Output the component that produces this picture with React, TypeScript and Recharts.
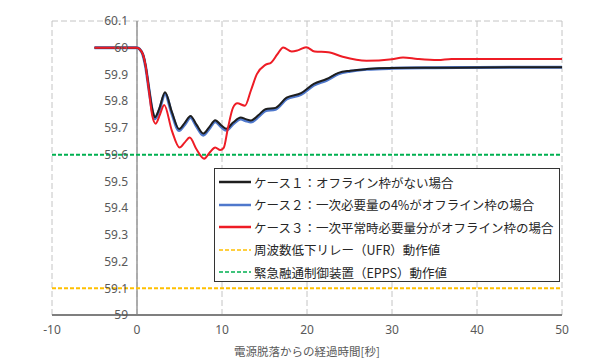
import React from 'react';
import { LineChart, Line, XAxis, YAxis, CartesianGrid, ReferenceLine, ReferenceDot, Legend } from 'recharts';

const xTicks = [-10, 0, 10, 20, 30, 40, 50];
const yTicks = [59, 59.1, 59.2, 59.3, 59.4, 59.5, 59.6, 59.7, 59.8, 59.9, 60, 60.1];
const yTickLabels = ['59', '59.1', '59.2', '59.3', '59.4', '59.5', '59.6', '59.7', '59.8', '59.9', '60', '60.1'];

const case1Time = [-5, 0, 0.3, 0.7, 1.0, 1.4, 1.8, 2.1, 2.6, 3.3, 4.1, 4.95, 5.6, 6.3, 7.0, 7.8, 8.5, 9.2, 9.9, 10.5, 11.3, 12.2, 12.8, 13.4, 14.3, 15.1, 16.3, 17.6, 19.3, 20.8, 22.3, 23.7, 25.1, 27, 30, 35, 40, 45, 50];
const case1Freq = [60, 60, 59.995, 59.975, 59.935, 59.85, 59.77, 59.74, 59.77, 59.833, 59.76, 59.696, 59.718, 59.745, 59.712, 59.679, 59.703, 59.729, 59.71, 59.697, 59.72, 59.739, 59.733, 59.728, 59.748, 59.77, 59.775, 59.813, 59.83, 59.865, 59.883, 59.906, 59.914, 59.92, 59.924, 59.925, 59.926, 59.927, 59.927];
const case2Freq = [60, 60, 59.995, 59.973, 59.932, 59.845, 59.764, 59.734, 59.764, 59.827, 59.753, 59.69, 59.712, 59.739, 59.706, 59.673, 59.697, 59.723, 59.704, 59.691, 59.714, 59.733, 59.727, 59.722, 59.742, 59.764, 59.77, 59.808, 59.825, 59.86, 59.878, 59.902, 59.912, 59.919, 59.923, 59.925, 59.926, 59.927, 59.927];
const case3Time = [-5, 0, 0.3, 0.7, 1.0, 1.4, 1.8, 2.2, 2.7, 3.2, 4.1, 5.0, 5.6, 6.2, 7.0, 7.9, 8.6, 9.2, 9.8, 10.2, 10.7, 11.3, 11.8, 12.7, 13.4, 14.1, 15.1, 15.8, 16.5, 17.2, 18.2, 18.9, 19.9, 20.9, 22.5, 24.2, 27, 30, 31.3, 33, 35.4, 37, 50];
const case3Freq = [60, 60, 59.995, 59.975, 59.935, 59.84, 59.745, 59.716, 59.75, 59.786, 59.69, 59.627, 59.645, 59.664, 59.62, 59.585, 59.61, 59.627, 59.617, 59.625, 59.7, 59.776, 59.792, 59.783, 59.84, 59.901, 59.936, 59.945, 59.975, 60.001, 59.986, 59.99, 60.002, 59.986, 59.983, 59.966, 59.951, 59.957, 59.963, 59.958, 59.954, 59.958, 59.958];

const ufrValue = 59.1;
const eppsValue = 59.6;

const legendLabels = [
  'ケース１：オフライン枠がない場合',
  'ケース２：一次必要量の4%がオフライン枠の場合',
  'ケース３：一次平常時必要量分がオフライン枠の場合',
  '周波数低下リレー（UFR）動作値',
  '緊急融通制御装置（EPPS）動作値',
];
const legendColors = ['#1e1e1e', '#4f78cc', '#ee1c25', '#ffc000', '#00b050'];
const legendDashed = [false, false, false, true, true];

const xLabel = '電源脱落からの経過時間[秒]';
const yLabel = '周波数[Hz]';

const case1Data = case1Time.map((t, i) => ({ t, v: case1Freq[i] }));
const case2Data = case1Time.map((t, i) => ({ t, v: case2Freq[i] }));
const case3Data = case3Time.map((t, i) => ({ t, v: case3Freq[i] }));

const CJK = '"Noto Sans CJK JP", "Noto Sans", sans-serif';

const renderLegend = () => (
  <div
    style={{
      width: 346,
      height: 114,
      boxSizing: 'border-box',
      border: '1.5px solid #333',
      background: '#fff',
      padding: '2px 0 0 4px',
      fontFamily: CJK,
      fontSize: 12.5,
      color: '#262626',
    }}
  >
    {legendLabels.map((label, i) => (
      <div key={i} style={{ display: 'flex', alignItems: 'center', height: 22.5, whiteSpace: 'nowrap' }}>
        <svg width={32} height={6} style={{ marginRight: 3 }}>
          <line
            x1={0}
            y1={3}
            x2={32}
            y2={3}
            stroke={legendColors[i]}
            strokeWidth={legendDashed[i] ? 1.5 : 2.5}
            strokeDasharray={legendDashed[i] ? '4 2' : undefined}
          />
        </svg>
        <span>{label}</span>
      </div>
    ))}
  </div>
);

const renderYLabel = () => (
  <text
    x={25}
    y={157}
    transform="rotate(-90 25 157)"
    textAnchor="middle"
    dominantBaseline="central"
    fill="#595959"
    fontSize={11.5}
    fontFamily={CJK}
  >
    {yLabel}
  </text>
);

export default function App() {
  return (
    <div style={{ position: 'absolute', left: 0, top: 0, width: 590, height: 361, background: '#fff' }}>
      <LineChart width={590} height={361} margin={{ top: 21, right: 28, left: 52, bottom: 0 }}>
        <CartesianGrid stroke="#c4c4c4" strokeDasharray="6 3" />
        <XAxis
          type="number"
          dataKey="t"
          domain={[-10, 50]}
          ticks={xTicks}
          allowDataOverflow
          tickLine={false}
          tickSize={0}
          tickMargin={10}
          axisLine={{ stroke: '#7f7f7f', strokeWidth: 2 }}
          tick={{ fill: '#595959', fontSize: 12, fontFamily: '"Noto Sans", sans-serif' }}
          height={46}
          label={{ value: xLabel, position: 'insideBottom', offset: 5, fill: '#595959', fontSize: 11.5, fontFamily: CJK }}
        />
        <YAxis
          type="number"
          domain={[59, 60.1]}
          ticks={yTicks}
          allowDataOverflow
          width={0}
          tick={false}
          tickLine={false}
          axisLine={false}
          label={renderYLabel}
        />
        <ReferenceLine x={0} stroke="#999" strokeWidth={1.5} />
        <ReferenceLine y={ufrValue} stroke="#ffc000" strokeWidth={2} strokeDasharray="4 2" />
        <ReferenceLine y={eppsValue} stroke="#00b050" strokeWidth={2} strokeDasharray="4 2" />
        {yTicks.map((v, i) => (
          <ReferenceDot
            key={i}
            x={0}
            y={v}
            r={0}
            fill="none"
            stroke="none"
            label={{ value: yTickLabels[i], position: 'left', offset: 9, fill: '#595959', fontSize: 12, fontFamily: '"Noto Sans", sans-serif' }}
          />
        ))}
        <Line data={case2Data} dataKey="v" type="monotone" stroke={legendColors[1]} strokeWidth={3} dot={false} isAnimationActive={false} />
        <Line data={case1Data} dataKey="v" type="monotone" stroke={legendColors[0]} strokeWidth={2} dot={false} isAnimationActive={false} />
        <Line data={case3Data} dataKey="v" type="monotone" stroke={legendColors[2]} strokeWidth={2} dot={false} isAnimationActive={false} />
        <Legend
          layout="vertical"
          align="center"
          verticalAlign="middle"
          content={renderLegend}
          wrapperStyle={{ left: 214, top: 168, width: 346, height: 114 }}
        />
      </LineChart>
    </div>
  );
}
